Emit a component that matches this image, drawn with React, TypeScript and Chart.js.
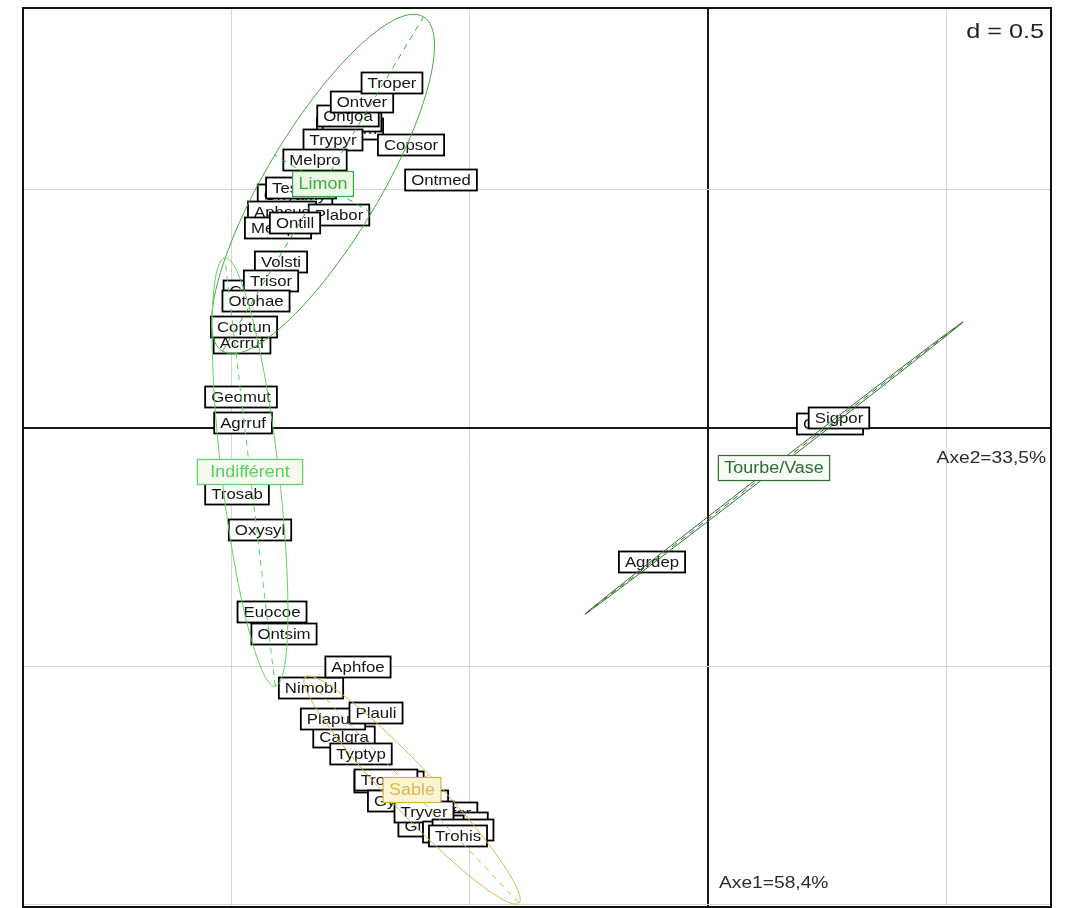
import { useEffect, useRef } from "react";
import { Chart, registerables } from "chart.js";

Chart.register(...registerables);

// ---- Data ----
const speciesNames = [
  "Ontlem", "Ontfur", "Ontjoa", "Ontver", "Troper", "Trypyr", "Copsor", "Melpro", "Ontmed",
  "Onyamy", "Tesmac", "Aphsus", "Melsph", "Plabor", "Ontill", "Volsti", "Chrfla", "Trisor",
  "Otohae", "Acrruf", "Coptun", "Geomut", "Agrruf", "Trosab", "Oxysyl", "Euocoe", "Ontsim", "Nimobl",
  "Aphfoe", "Calgra", "Plapun", "Plauli", "Typtyp", "Troman", "Trosca", "Gymmop", "Ontfor", "Ontlug",
  "Gimstu", "Tryver", "Trofun", "Tropro", "Trohis",
  "Agrdep", "Geoste", "Sigpor",
];
const speciesX = [
  -0.7505, -0.7463, -0.7547, -0.7254, -0.6625, -0.7862, -0.6226, -0.8239, -0.5597,
  -0.8658, -0.8532, -0.8931, -0.9015, -0.7736, -0.8658, -0.8952, -0.9560, -0.9161,
  -0.9476, -0.9769, -0.9727, -0.9790, -0.9748, -0.9874, -0.9392, -0.9140, -0.8889, -0.8323,
  -0.7338, -0.7631, -0.7862, -0.6960, -0.7275, -0.6688, -0.6751, -0.6289, -0.5451, -0.5262,
  -0.5807, -0.5954, -0.5346, -0.5136, -0.5241,
  -0.1174, 0.2558, 0.2746,
];
const speciesY = [
  0.6268, 0.6436, 0.6541, 0.6834, 0.7233, 0.6038, 0.5933, 0.5618, 0.5199,
  0.4885, 0.5031, 0.4528, 0.4193, 0.4465, 0.4298, 0.3480, 0.2872, 0.3082,
  0.2662, 0.1782, 0.2117, 0.0650, 0.0105, -0.1384, -0.2138, -0.3857, -0.4319, -0.5451,
  -0.5010, -0.6478, -0.6101, -0.5975, -0.6834, -0.7421, -0.7380, -0.7820, -0.8071, -0.8281,
  -0.8344, -0.8050, -0.8470, -0.8428, -0.8553,
  -0.2809, 0.0084, 0.0210,
];

const classNames = ["Limon", "Indifférent", "Sable", "Tourbe/Vase"];
const classX = [-0.8071, -0.9602, -0.6205, 0.1384];
const classY = [0.5115, -0.0922, -0.7589, -0.0839];
const ellipseMajor = [0.409, 0.452, 0.326, 0.5007];
const ellipseMinor = [0.118, 0.06, 0.048, 0.004];
const ellipseAngleDeg = [59, 96.7, 133.4, 37.7];

const xGridTicks = [-1, -0.5, 0, 0.5];
const yGridTicks = [-1, -0.5, 0, 0.5];
const X_MIN = -1.4361;
const X_MAX = 0.7191;
const Y_MIN = -1.0042;
const Y_MAX = 0.8805;

const scaleText = "d = 0.5";
const axis1Text = "Axe1=58,4%";
const axis2Text = "Axe2=33,5%";

// ---- Styles ----
const classLine = ["#3daa3d", "#62cf62", "#d6b446", "#2f6a2f"];
const classText = ["#38b038", "#5ccc5c", "#e0b850", "#2f6a2f"];
const classFill = ["#eef8ea", "#f3fbf1", "#fcf4d6", "#f7fbf6"];
const FONT = '"Liberation Sans", Arial, sans-serif';
const SX = 1.12;

function drawBox(
  ctx: CanvasRenderingContext2D,
  text: string,
  x: number,
  y: number,
  size: number,
  sx: number,
  pad: number,
  h: number,
  stroke: string,
  fill: string,
  color: string,
  lw: number
) {
  ctx.save();
  ctx.font = `${size}px ${FONT}`;
  const w = ctx.measureText(text).width * sx + 2 * pad;
  ctx.fillStyle = fill;
  ctx.fillRect(x - w / 2, y - h / 2, w, h);
  ctx.strokeStyle = stroke;
  ctx.lineWidth = lw;
  ctx.strokeRect(x - w / 2, y - h / 2, w, h);
  ctx.translate(x, y);
  ctx.scale(sx, 1);
  ctx.fillStyle = color;
  ctx.textAlign = "center";
  ctx.textBaseline = "middle";
  ctx.fillText(text, 0, 1);
  ctx.restore();
}

const adePlugin = {
  id: "adePlugin",
  afterDatasetsDraw(chart: any) {
    const ctx: CanvasRenderingContext2D = chart.ctx;
    const xs = chart.scales.x;
    const ys = chart.scales.y;
    const area = chart.chartArea;
    ctx.save();
    ctx.beginPath();
    ctx.rect(area.left, area.top, area.right - area.left, area.bottom - area.top);
    ctx.clip();

    // species labels
    const sMeta = chart.getDatasetMeta(0);
    sMeta.data.forEach((pt: any, i: number) => {
      drawBox(ctx, speciesNames[i], pt.x, pt.y, 15, SX, 6, 21, "#000", "#ffffff", "#151515", 1.8);
    });

    // ellipses
    classNames.forEach((_, k) => {
      const th = (ellipseAngleDeg[k] * Math.PI) / 180;
      const a = ellipseMajor[k];
      const b = ellipseMinor[k];
      const cx = classX[k];
      const cy = classY[k];
      ctx.strokeStyle = classLine[k];
      ctx.lineWidth = 1;
      ctx.setLineDash([]);
      ctx.beginPath();
      for (let j = 0; j <= 200; j++) {
        const t = (j / 200) * Math.PI * 2;
        const dx = a * Math.cos(th) * Math.cos(t) - b * Math.sin(th) * Math.sin(t);
        const dy = a * Math.sin(th) * Math.cos(t) + b * Math.cos(th) * Math.sin(t);
        const px = xs.getPixelForValue(cx + dx);
        const py = ys.getPixelForValue(cy + dy);
        if (j === 0) ctx.moveTo(px, py);
        else ctx.lineTo(px, py);
      }
      ctx.stroke();
      // dashed axes
      ctx.setLineDash([6, 5]);
      ctx.beginPath();
      ctx.moveTo(xs.getPixelForValue(cx - a * Math.cos(th)), ys.getPixelForValue(cy - a * Math.sin(th)));
      ctx.lineTo(xs.getPixelForValue(cx + a * Math.cos(th)), ys.getPixelForValue(cy + a * Math.sin(th)));
      ctx.moveTo(xs.getPixelForValue(cx + b * Math.sin(th)), ys.getPixelForValue(cy - b * Math.cos(th)));
      ctx.lineTo(xs.getPixelForValue(cx - b * Math.sin(th)), ys.getPixelForValue(cy + b * Math.cos(th)));
      ctx.stroke();
      ctx.setLineDash([]);
    });

    // class labels
    const cMeta = chart.getDatasetMeta(1);
    cMeta.data.forEach((pt: any, k: number) => {
      const pad = classNames[k] === "Indifférent" ? 13 : 6;
      drawBox(ctx, classNames[k], pt.x, pt.y, 16, SX, pad, 25, classLine[k], classFill[k], classText[k], 1.2);
    });

    // axis captions
    ctx.fillStyle = "#2a2a2a";
    ctx.font = `16px ${FONT}`;
    ctx.textBaseline = "alphabetic";
    ctx.save();
    ctx.translate(area.right - 5, ys.getPixelForValue(0) + 35);
    ctx.scale(1.2, 1);
    ctx.textAlign = "right";
    ctx.fillText(axis2Text, 0, 0);
    ctx.restore();
    ctx.save();
    ctx.translate(xs.getPixelForValue(0) + 11, area.bottom - 19);
    ctx.scale(1.2, 1);
    ctx.textAlign = "left";
    ctx.fillText(axis1Text, 0, 0);
    ctx.restore();

    // scale box
    ctx.font = `21px ${FONT}`;
    const tw = ctx.measureText(scaleText).width * 1.2;
    ctx.fillStyle = "#ffffff";
    ctx.fillRect(area.right - tw - 12, area.top + 3, tw + 10, 30);
    ctx.save();
    ctx.translate(area.right - 7, area.top + 30);
    ctx.scale(1.2, 1);
    ctx.fillStyle = "#222";
    ctx.textAlign = "right";
    ctx.fillText(scaleText, 0, 0);
    ctx.restore();

    ctx.restore();

    // frame
    ctx.save();
    ctx.strokeStyle = "#111";
    ctx.lineWidth = 2;
    ctx.strokeRect(area.left, area.top, area.right - area.left, area.bottom - area.top);
    ctx.restore();
  },
};

export default function App() {
  const ref = useRef<HTMLCanvasElement | null>(null);
  useEffect(() => {
    if (!ref.current) return;
    const gridColor = (c: any) => (c.tick && c.tick.value === 0 ? "#1a1a1a" : "#d6d6d6");
    const gridWidth = (c: any) => (c.tick && c.tick.value === 0 ? 2 : 1);
    const chart = new Chart(ref.current, {
      type: "scatter",
      data: {
        datasets: [
          {
            label: "species",
            data: speciesNames.map((_, i) => ({ x: speciesX[i], y: speciesY[i] })),
            pointRadius: 0,
            pointHoverRadius: 0,
          },
          {
            label: "classes",
            data: classNames.map((_, k) => ({ x: classX[k], y: classY[k] })),
            pointRadius: 0,
            pointHoverRadius: 0,
          },
        ],
      },
      options: {
        responsive: false,
        animation: false,
        events: [],
        layout: { padding: { left: 23, top: 8, right: 18, bottom: 1 } },
        plugins: { legend: { display: false }, tooltip: { enabled: false } },
        scales: {
          x: {
            type: "linear",
            min: X_MIN,
            max: X_MAX,
            afterBuildTicks: (s: any) => {
              s.ticks = xGridTicks.map((v) => ({ value: v }));
            },
            ticks: { display: false },
            border: { display: false },
            grid: { color: gridColor, lineWidth: gridWidth, drawTicks: false },
          },
          y: {
            type: "linear",
            min: Y_MIN,
            max: Y_MAX,
            afterBuildTicks: (s: any) => {
              s.ticks = yGridTicks.map((v) => ({ value: v }));
            },
            ticks: { display: false },
            border: { display: false },
            grid: { color: gridColor, lineWidth: gridWidth, drawTicks: false },
          },
        },
      },
      plugins: [adePlugin],
    });
    return () => chart.destroy();
  }, []);
  return (
    <div style={{ position: "absolute", left: 0, top: 0, width: 1069, height: 908, background: "#fff" }}>
      <canvas ref={ref} width={1069} height={908} style={{ display: "block" }} />
    </div>
  );
}
